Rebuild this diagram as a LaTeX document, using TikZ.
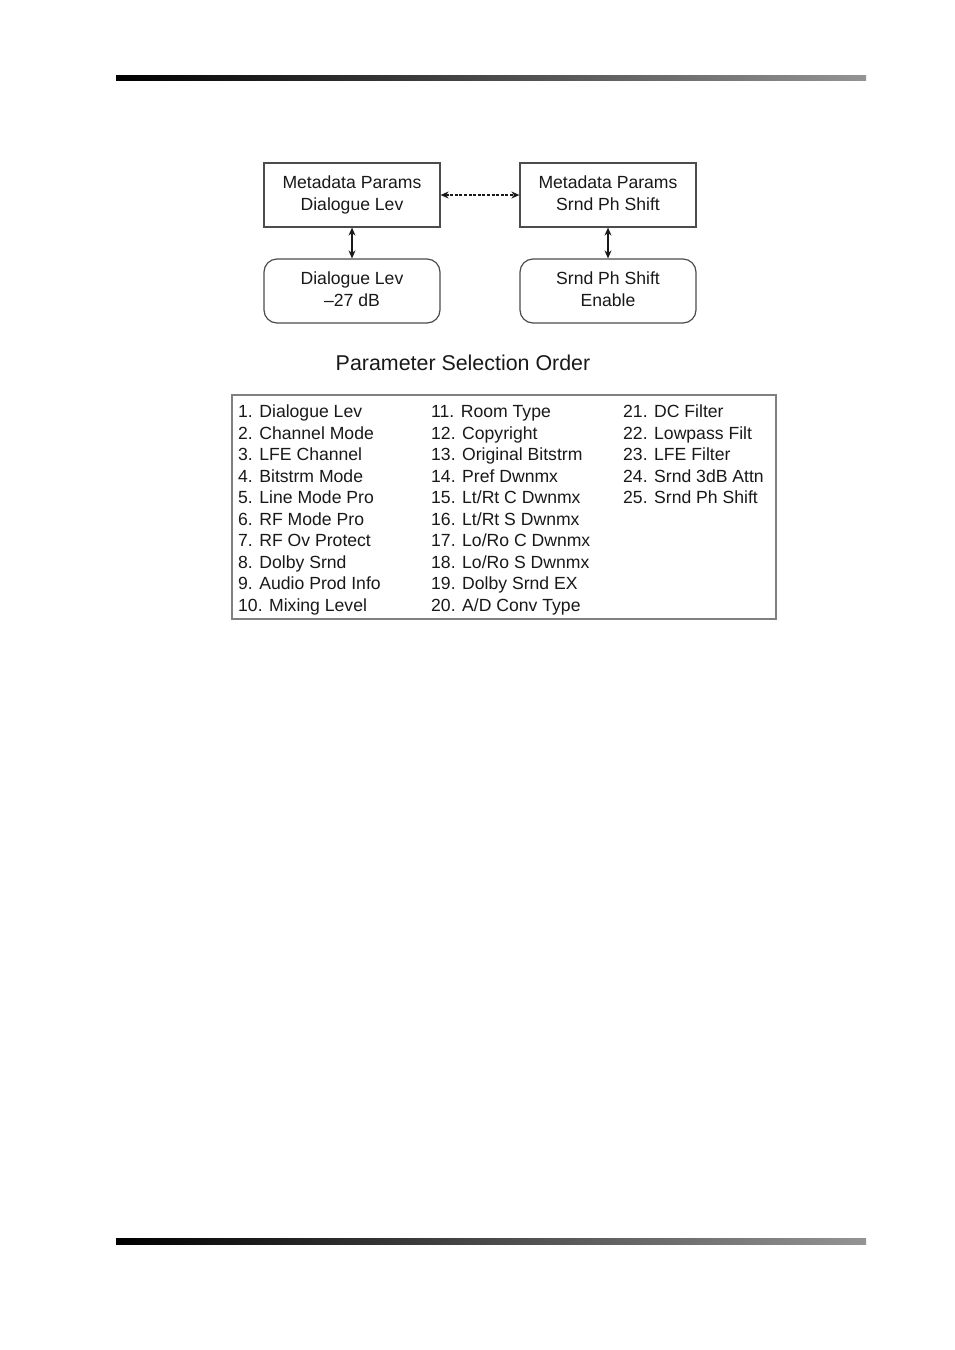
\documentclass[tikz,border=0pt]{standalone}
\usepackage{fontspec}
\setmainfont{Liberation Sans}
\usetikzlibrary{arrows.meta}
\begin{document}
\begin{tikzpicture}[x=1pt,y=-1pt,
  txt/.style={font=\fontsize{17.6}{22}\selectfont, text=black!90},
  parambox/.style={txt, draw=black!70, line width=1.2pt, minimum width=176pt, minimum height=64pt, inner sep=0pt, align=center},
  valbox/.style={parambox, rounded corners=13pt},
  dbl/.style={{Stealth[length=8pt,width=7pt]}-{Stealth[length=8pt,width=7pt]}, line width=1.1pt, black!90},
  entry/.style={txt, anchor=base west, inner sep=0pt},
  bar/.style={left color=black, right color=black!42}
]
\useasboundingbox (0,0) rectangle (954,1350);
\fill[white] (0,0) rectangle (954,1350);
% header and footer bars
\shade[bar] (116,75) rectangle (866,80.5);
\shade[bar] (116,1238.5) rectangle (866,1244);

% boxes
\node[parambox] (mpdl) at (352,195) {\strut Metadata Params\\\strut Dialogue Lev};
\node[parambox] (mpsp) at (608,195) {\strut Metadata Params\\\strut Srnd Ph Shift};
\node[valbox] (dl) at (352,291) {\strut Dialogue Lev\\\strut\textendash27 dB};
\node[valbox] (sp) at (608,291) {\strut Srnd Ph Shift\\\strut Enable};

\draw[dbl] (mpdl.south) -- (dl.north);
\draw[dbl] (mpsp.south) -- (sp.north);
\draw[dbl, dash pattern=on 3pt off 1.6pt] (mpdl.east) -- (mpsp.west);

% title
\node[font=\fontsize{21.4}{24}\selectfont, text=black!90, inner sep=0pt] (title) at (463,363) {Parameter Selection Order};

% table frame
\node[draw=black!50, line width=1.2pt, minimum width=544pt, minimum height=224pt, inner sep=0pt] (frame) at (504,507) {};

% entries
\foreach \k/\t in {1/{Dialogue Lev},2/{Channel Mode},3/{LFE Channel},4/{Bitstrm Mode},5/{Line Mode Pro},6/{RF Mode Pro},7/{RF Ov Protect},8/{Dolby Srnd},9/{Audio Prod Info},10/{Mixing Level}}
  \node[entry] (t\k) at (238,{417.5+(\k-1)*21.55}) {\k. \t};
\foreach \k/\t in {11/{Room Type},12/{Copyright},13/{Original Bitstrm},14/{Pref Dwnmx},15/{Lt/Rt C Dwnmx},16/{Lt/Rt S Dwnmx},17/{Lo/Ro C Dwnmx},18/{Lo/Ro S Dwnmx},19/{Dolby Srnd EX},20/{A/D Conv Type}}
  \node[entry] (t\k) at (431,{417.5+(\k-11)*21.55}) {\k. \t};
\foreach \k/\t in {21/{DC Filter},22/{Lowpass Filt},23/{LFE Filter},24/{Srnd 3dB Attn},25/{Srnd Ph Shift}}
  \node[entry] (t\k) at (623,{417.5+(\k-21)*21.55}) {\k. \t};
\end{tikzpicture}
\end{document}
